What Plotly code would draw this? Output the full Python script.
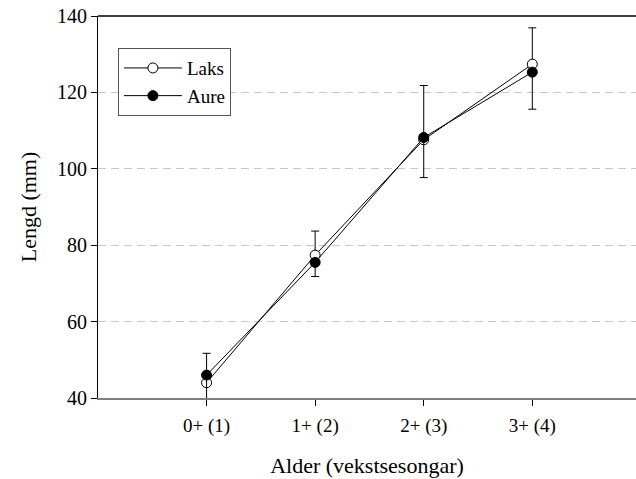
import plotly.graph_objects as go

categories = ["0+ (1)", "1+ (2)", "2+ (3)", "3+ (4)"]
x_pos = [1, 2, 3, 4]
laks = [44.0, 77.4, 107.6, 127.4]
aure = [46.0, 75.5, 108.2, 125.3]
laks_err_up = [7.7, 6.3, 14.2, 9.5]
aure_err_down = [7.4, 3.7, 10.5, 9.7]
y_ticks = [40, 60, 80, 100, 120, 140]

FONT = "Liberation Serif, Times New Roman, serif"

fig = go.Figure()
fig.add_trace(go.Scatter(
    x=x_pos, y=laks, name="Laks", mode="lines+markers",
    line=dict(color="black", width=1),
    marker=dict(symbol="circle", size=10, color="white", line=dict(color="black", width=1)),
    error_y=dict(type="data", symmetric=False, array=laks_err_up,
                 arrayminus=[0] * len(laks), color="black", thickness=1, width=4),
    cliponaxis=False,
))
fig.add_trace(go.Scatter(
    x=x_pos, y=aure, name="Aure", mode="lines+markers",
    line=dict(color="black", width=1),
    marker=dict(symbol="circle", size=10, color="black", line=dict(color="black", width=1)),
    error_y=dict(type="data", symmetric=False, array=[0] * len(aure),
                 arrayminus=aure_err_down, color="black", thickness=1, width=4),
    cliponaxis=False,
))

fig.update_layout(
    width=636, height=479,
    margin=dict(l=98, r=0, t=16, b=81, autoexpand=False),
    paper_bgcolor="white", plot_bgcolor="white",
    font=dict(family=FONT, size=20, color="black"),
    showlegend=True,
    legend=dict(
        x=0.037, y=0.916, xanchor="left", yanchor="top",
        bgcolor="white", bordercolor="#555555", borderwidth=1,
        font=dict(family=FONT, size=19, color="black"),
        itemwidth=58, tracegroupgap=0,
    ),
    xaxis=dict(
        range=[0, 4.955],
        automargin=False,
        tickvals=x_pos, ticktext=categories,
        showgrid=False, zeroline=False,
        showline=True, linecolor="#808080", linewidth=2,
        ticks="outside", ticklen=6, tickcolor="black", tickwidth=1,
        ticklabelstandoff=3,
        tickfont=dict(family=FONT, size=19),
        title=dict(text="Alder (vekstsesongar)", font=dict(family=FONT, size=22), standoff=22),
    ),
    yaxis=dict(
        range=[40, 140],
        automargin=False,
        tickvals=y_ticks,
        showgrid=True, gridcolor="#c8c8c8", gridwidth=1, griddash="8px,5px",
        zeroline=False,
        showline=True, linecolor="black", linewidth=1,
        ticks="outside", ticklen=6, tickcolor="black", tickwidth=1,
        tickfont=dict(family=FONT, size=20),
        title=dict(text="Lengd (mm)", font=dict(family=FONT, size=22), standoff=14),
    ),
    shapes=[dict(type="line", xref="paper", yref="paper", x0=0, x1=1, y0=1, y1=1,
                 line=dict(color="black", width=1.5))],
)

fig.write_html(
    "out.html",
    config={"displayModeBar": False},
    post_script=(
        "document.documentElement.style.margin='0';"
        "document.documentElement.style.overflow='hidden';"
        "document.body.style.margin='0';"
        "document.body.style.overflow='hidden';"
    ),
)
